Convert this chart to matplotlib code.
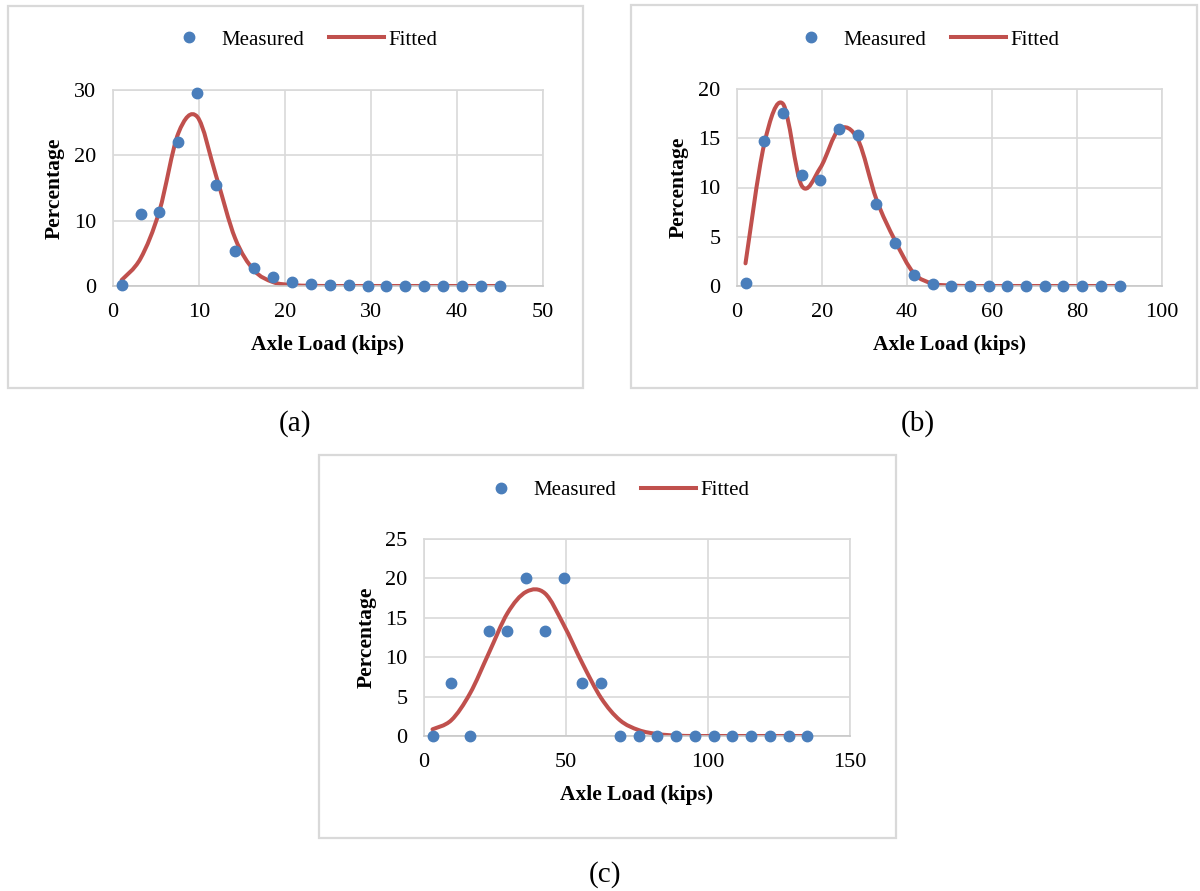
import matplotlib
matplotlib.use("Agg")
import matplotlib.pyplot as plt
from matplotlib.path import Path
from matplotlib.patches import PathPatch, Rectangle
import numpy as np

plt.rcParams['font.family'] = ['Liberation Serif', 'DejaVu Serif']

# panel (a)
load_a = [1, 3.2, 5.4, 7.6, 9.8, 12, 14.2, 16.4, 18.6, 20.8, 23, 25.2, 27.4,
          29.6, 31.8, 34, 36.2, 38.4, 40.6, 42.8, 45]
meas_a = [0.2, 11.0, 11.4, 22.0, 29.6, 15.4, 5.3, 2.8, 1.4, 0.6, 0.35, 0.2, 0.1,
          0.05, 0, 0, 0, 0, 0, 0, 0]
fit_a = [0.9, 4.2, 11.5, 23.4, 25.9, 16.8, 7.3, 2.4, 0.6, 0.15, 0.03, 0, 0,
         0, 0, 0, 0, 0, 0, 0, 0]

# panel (b)
load_b = [2, 6.4, 10.8, 15.2, 19.6, 24, 28.4, 32.8, 37.2, 41.6, 46, 50.4, 54.8,
          59.2, 63.6, 68, 72.4, 76.8, 81.2, 85.6, 90]
meas_b = [0.3, 14.7, 17.6, 11.3, 10.8, 15.9, 15.3, 8.3, 4.4, 1.1, 0.2, 0.05, 0,
          0, 0, 0, 0, 0, 0, 0, 0]
fit_b = [2.3, 14.4, 18.5, 10.2, 12.0, 15.9, 14.9, 8.8, 4.6, 1.3, 0.25, 0.05, 0,
         0, 0, 0, 0, 0, 0, 0, 0]

# panel (c)
load_c = [3, 9.6, 16.2, 22.8, 29.4, 36, 42.6, 49.2, 55.8, 62.4, 69, 75.6, 82.2,
          88.8, 95.4, 102, 108.6, 115.2, 121.8, 128.4, 135]
meas_c = [0, 6.67, 0, 13.33, 13.33, 20, 13.33, 20, 6.67, 6.67, 0, 0, 0,
          0, 0, 0, 0, 0, 0, 0, 0]
fit_c = [0.85, 2.0, 5.4, 10.5, 15.6, 18.3, 18.1, 14.1, 9.2, 4.8, 2.0, 0.75, 0.25,
         0.05, 0, 0, 0, 0, 0, 0, 0]

W, H = 1200, 891
BLUE = '#4a7ebb'
RED = '#c0504d'
GRID = '#d9d9d9'

fig = plt.figure(figsize=(12, 8.91), dpi=100)


def smooth_path(xs, ys):
    # excel style smoothed line (catmull-rom as bezier curves)
    pts = np.column_stack([xs, ys]).astype(float)
    verts = [pts[0]]
    codes = [Path.MOVETO]
    n = len(pts)
    for i in range(n - 1):
        p0 = pts[max(i - 1, 0)]
        p1 = pts[i]
        p2 = pts[i + 1]
        p3 = pts[min(i + 2, n - 1)]
        verts += [p1 + (p2 - p0) / 6, p2 - (p3 - p1) / 6, p2]
        codes += [Path.CURVE4] * 3
    return Path(verts, codes)


def panel(box, area, xs, meas, fit, xmax, xstep, ymax, ystep, leg_c, ylab_x, caption):
    # outer chart frame
    bx0, by0, bx1, by1 = box
    fig.add_artist(Rectangle((bx0 / W, 1 - by1 / H), (bx1 - bx0) / W, (by1 - by0) / H,
                             transform=fig.transFigure, fill=False, ec=GRID, lw=1.6))
    l, t, r, b = area
    ax = fig.add_axes([l / W, 1 - b / H, (r - l) / W, (b - t) / H])

    line, = ax.plot([], [], color=RED, lw=2.9, label='Fitted')
    ax.add_patch(PathPatch(smooth_path(xs, fit), fill=False, ec=RED, lw=2.9,
                           capstyle='round', joinstyle='round', zorder=2))
    pts, = ax.plot(xs, meas, 'o', color=BLUE, ms=7.5, mec=BLUE, label='Measured',
                   zorder=3, clip_on=False)

    ax.set_xlim(0, xmax)
    ax.set_ylim(0, ymax)
    ax.set_xticks(np.arange(0, xmax + 1, xstep))
    ax.set_yticks(np.arange(0, ymax + 1, ystep))
    ax.grid(True, color=GRID, lw=1.2)
    ax.set_axisbelow(True)
    for s in ax.spines.values():
        s.set_color(GRID)
        s.set_linewidth(1.2)
    ax.spines['bottom'].set_color('#c8c8c8')
    ax.tick_params(length=0, labelsize=16, colors='black')
    ax.tick_params(axis='y', pad=12)
    ax.tick_params(axis='x', pad=12)

    ax.legend(handles=[pts, line], loc='center', ncol=2, frameon=False, fontsize=15,
              numpoints=1, handlelength=2.6, handletextpad=0.25, columnspacing=1.2,
              bbox_to_anchor=(leg_c[0] / W, 1 - leg_c[1] / H), bbox_transform=fig.transFigure)

    cx = (l + r) / 2
    fig.text(cx / W, 1 - (b + 59) / H, 'Axle Load (kips)', ha='center', va='center',
             fontsize=15.5, fontweight='bold')
    fig.text(ylab_x / W, 1 - ((t + b) / 2) / H, 'Percentage', ha='center', va='center',
             rotation=90, fontsize=15.5, fontweight='bold')
    fig.text(caption[1] / W, 1 - caption[2] / H, caption[0], ha='center', va='center',
             fontsize=21)
    return ax


panel((8, 6, 583, 388), (113, 90, 543, 286), load_a, meas_a, fit_a,
      50, 10, 30, 10, (300, 40), 55, ('(a)', 295, 424))
panel((631, 5, 1197, 388), (737, 89, 1162, 286), load_b, meas_b, fit_b,
      100, 20, 20, 5, (922, 40), 679, ('(b)', 918, 424))
panel((319, 455, 896, 838), (424, 539, 850, 736), load_c, meas_c, fit_c,
      150, 50, 25, 5, (612, 490), 367, ('(c)', 605, 875))

fig.savefig('out.png', dpi=100)
